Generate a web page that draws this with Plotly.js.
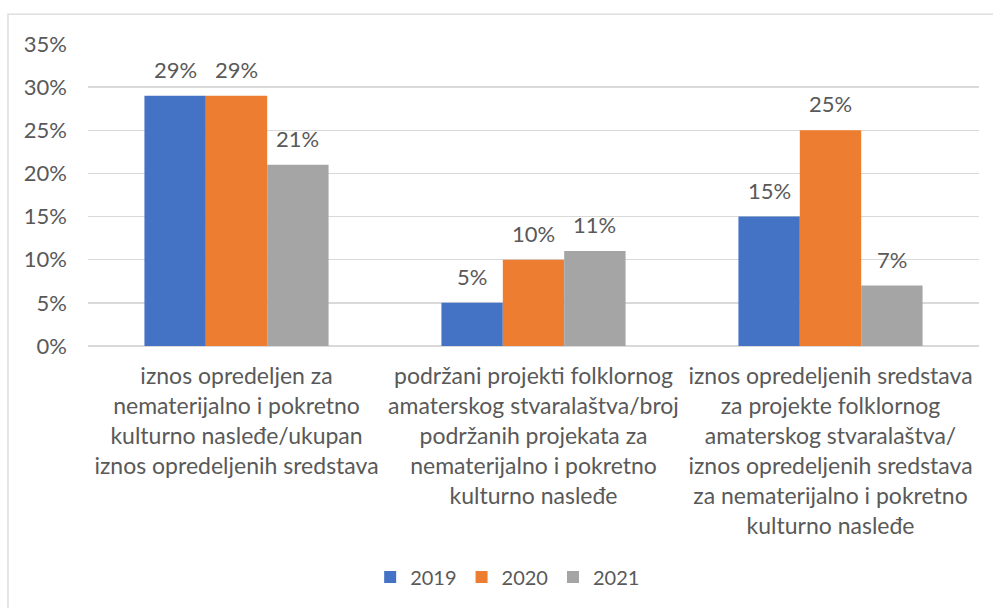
<!DOCTYPE html>
<html><head><meta charset="utf-8">
<script src="https://cdn.plot.ly/plotly-3.0.1.min.js"></script>
<style>html,body{margin:0;padding:0;background:#fff}</style>
</head><body>
<div id="chart" style="width:993px;height:608px"></div>
<script>
const categories = [
  "iznos opredeljen za<br>nematerijalno i pokretno<br>kulturno nasleđe/ukupan<br>iznos opredeljenih sredstava",
  "podržani projekti folklornog<br>amaterskog stvaralaštva/broj<br>podržanih projekata za<br>nematerijalno i pokretno<br>kulturno nasleđe",
  "iznos opredeljenih sredstava<br>za projekte folklornog<br>amaterskog stvaralaštva/<br>iznos opredeljenih sredstava<br>za nematerijalno i pokretno<br>kulturno nasleđe"
];
const seriesNames = ["2019", "2020", "2021"];
const v2019 = [0.29, 0.05, 0.15];
const v2020 = [0.29, 0.10, 0.25];
const v2021 = [0.21, 0.11, 0.07];
const colors = ["#4472C4", "#ED7D31", "#A5A5A5"];

const FONT = "Lato, 'Open Sans', sans-serif";
const TXT = "#595959";
const allValues = [v2019, v2020, v2021];
const bargap = 0.38;
const barW = (1 - bargap) / 3;

const traces = allValues.map((vals, i) => ({
  type: "bar",
  name: seriesNames[i],
  x: categories,
  y: vals,
  marker: {color: colors[i]},
  hoverinfo: "skip"
}));

const annotations = [];
allValues.forEach((vals, i) => {
  vals.forEach((v, j) => {
    annotations.push({
      xref: "x", yref: "y",
      x: j + (i - 1) * barW, y: v,
      text: Math.round(v * 100) + "%",
      showarrow: false, yanchor: "bottom", yshift: 11,
      font: {family: FONT, size: 22, color: TXT}
    });
  });
});

const layout = {
  width: 993, height: 608,
  margin: {l: 88, r: 14, t: 44, b: 262},
  paper_bgcolor: "#fff", plot_bgcolor: "#fff",
  barmode: "group", bargap: bargap, bargroupgap: 0,
  font: {family: FONT, size: 22, color: TXT},
  xaxis: {
    type: "category",
    tickfont: {family: FONT, size: 23, color: TXT},
    showgrid: false, zeroline: false, showline: false,
    ticks: "", tickangle: 0, automargin: false, ticklabelstandoff: 14
  },
  yaxis: {
    range: [0, 0.35], dtick: 0.05, tickformat: ".0%",
    gridcolor: "#D9D9D9", gridwidth: 1.3,
    zeroline: true, zerolinecolor: "#D9D9D9", zerolinewidth: 1.3,
    showline: false, ticks: "", ticklabelstandoff: 20,
    tickfont: {family: FONT, size: 22, color: TXT}, automargin: false
  },
  legend: {
    orientation: "h", x: 0.471, xanchor: "center", y: -0.765, yanchor: "middle",
    itemwidth: 30,
    font: {family: FONT, size: 20, color: TXT}, traceorder: "normal"
  },
  annotations: annotations,
  shapes: [{
    type: "rect", xref: "paper", yref: "paper",
    x0: -0.0898, x1: 1.03, y0: -1.2, y1: 1.099,
    line: {color: "#D9D9D9", width: 1.3}, fillcolor: "rgba(0,0,0,0)", layer: "below"
  }],
  showlegend: true
};

Plotly.newPlot("chart", traces, layout, {displayModeBar: false, staticPlot: true});
</script>
</body></html>
